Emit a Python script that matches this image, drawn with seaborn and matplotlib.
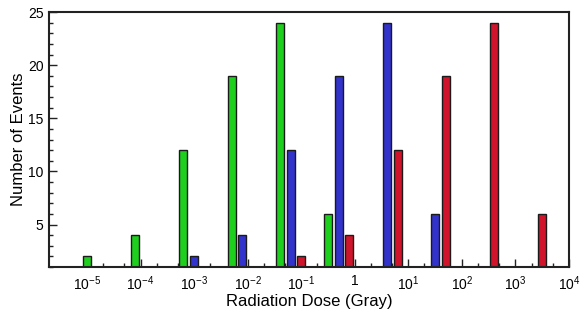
import numpy as np
import pandas as pd
import matplotlib
matplotlib.use("Agg")
import matplotlib.pyplot as plt
import seaborn as sns

# log10 of dose (Gray) at bar centres, one list per series
green_log_dose = [-5.0, -4.1, -3.2, -2.3, -1.4, -0.5]
blue_log_dose = [-3.0, -2.1, -1.2, -0.3, 0.6, 1.5]
red_log_dose = [-1.0, -0.1, 0.8, 1.7, 2.6, 3.5]

green_counts = [2, 4, 12, 19, 24, 6]
blue_counts = [2, 4, 12, 19, 24, 6]
red_counts = [2, 4, 12, 19, 24, 6]

decades = [-5, -4, -3, -2, -1, 0, 1, 2, 3, 4]
decade_labels = ["$10^{-5}$", "$10^{-4}$", "$10^{-3}$", "$10^{-2}$", "$10^{-1}$",
                 "$1$", "$10^{1}$", "$10^{2}$", "$10^{3}$", "$10^{4}$"]

df = pd.DataFrame({
    "dose": green_log_dose + blue_log_dose + red_log_dose,
    "count": green_counts + blue_counts + red_counts,
    "series": ["green"] * 6 + ["blue"] * 6 + ["red"] * 6,
})

sns.set_style("white")
plt.rcParams["font.family"] = ["Liberation Sans", "DejaVu Sans"]
plt.rcParams["mathtext.fontset"] = "custom"
plt.rcParams["mathtext.rm"] = "Liberation Sans"
plt.rcParams["mathtext.it"] = "Liberation Sans"
plt.rcParams["text.color"] = "black"
plt.rcParams["axes.labelcolor"] = "black"
plt.rcParams["xtick.color"] = "black"
plt.rcParams["ytick.color"] = "black"

fig = plt.figure(figsize=(5.8, 3.13), dpi=100)
ax = fig.add_axes([49 / 580, 46 / 313, 520 / 580, 255 / 313])

palette = {"green": "#1ecf1e", "blue": "#3232cc", "red": "#d0142c"}
sns.barplot(data=df, x="dose", y="count", hue="series", palette=palette,
            native_scale=True, dodge=False, width=0.75, saturation=1,
            errorbar=None, legend=False, edgecolor="#1a1a1a", linewidth=1,
            ax=ax)

ax.set_xlim(-5.71, 4.0)
ax.set_ylim(1, 25)
ax.set_xticks(decades)
ax.set_xticklabels(decade_labels, fontsize=10)
minor = [d + np.log10(m) for d in decades[:-1] for m in (2, 5)]
ax.set_xticks(minor, minor=True)
ax.set_yticks([5, 10, 15, 20, 25])
ax.set_yticks(range(1, 26), minor=True)
ax.tick_params(axis="both", which="major", direction="in", length=6, width=1,
               color="#222222", labelsize=10, bottom=True, left=True, pad=4)
ax.tick_params(axis="both", which="minor", direction="in", length=3, width=1,
               color="#222222", bottom=True, left=True)
ax.tick_params(axis="x", which="major", pad=5)

for s in ax.spines.values():
    s.set_linewidth(1.5)
    s.set_color("#222222")
    s.set_visible(True)

ax.set_xlabel("Radiation Dose (Gray)", fontsize=12, labelpad=1)
ax.set_ylabel("Number of Events", fontsize=12, labelpad=1)

fig.savefig("out.png", dpi=100)
